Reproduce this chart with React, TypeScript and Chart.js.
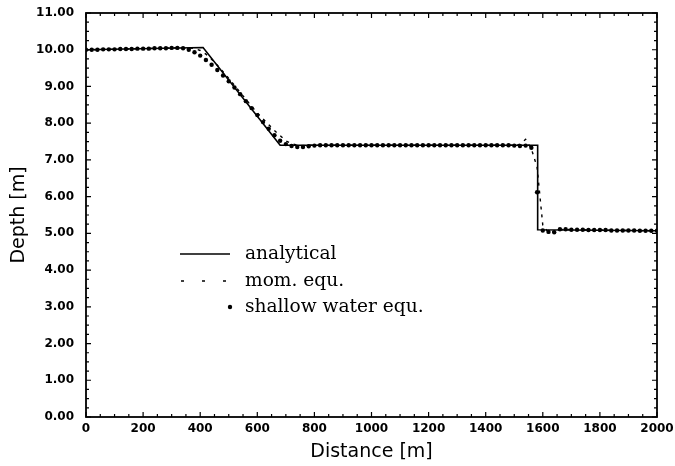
import React, { useEffect, useRef } from "react";
import { Chart, registerables } from "chart.js";

Chart.register(...registerables);

// ---- data ----
const DISTANCE = [
  0, 20, 40, 60, 80, 100, 120, 140, 160, 180,
  200, 220, 240, 260, 280, 300, 320, 340, 360, 380,
  400, 420, 440, 460, 480, 500, 520, 540, 560, 580,
  600, 620, 640, 660, 680, 700, 720, 740, 760, 780,
  800, 820, 840, 860, 880, 900, 920, 940, 960, 980,
  1000, 1020, 1040, 1060, 1080, 1100, 1120, 1140, 1160, 1180,
  1200, 1220, 1240, 1260, 1280, 1300, 1320, 1340, 1360, 1380,
  1400, 1420, 1440, 1460, 1480, 1500, 1520, 1540, 1560, 1580,
  1600, 1620, 1640, 1660, 1680, 1700, 1720, 1740, 1760, 1780,
  1800, 1820, 1840, 1860, 1880, 1900, 1920, 1940, 1960, 1980,
  2000,
];

const SHALLOW = [
  10.00, 10.00, 10.00, 10.01, 10.01, 10.01, 10.02, 10.02, 10.02, 10.03,
  10.03, 10.03, 10.04, 10.04, 10.04, 10.05, 10.05, 10.04,
  10.00, 9.93, 9.84, 9.72, 9.59, 9.45, 9.30, 9.14, 8.97, 8.79,
  8.60, 8.41, 8.22, 8.03, 7.85, 7.67, 7.52, 7.43, 7.38, 7.35,
  7.35, 7.37, 7.39,
  7.40, 7.40, 7.40, 7.40, 7.40,
  7.40, 7.40, 7.40, 7.40, 7.40,
  7.40, 7.40, 7.40, 7.40, 7.40,
  7.40, 7.40, 7.40, 7.40, 7.40,
  7.40, 7.40, 7.40, 7.40, 7.40,
  7.40, 7.40, 7.40, 7.40, 7.40,
  7.40, 7.40, 7.40, 7.40, 7.39,
  7.38, 7.39, 7.33, 6.12, 5.08, 5.04, 5.03, 5.11,
  5.11, 5.10, 5.10, 5.10, 5.09, 5.09, 5.09, 5.09, 5.08, 5.08,
  5.08, 5.08, 5.08, 5.07, 5.07, 5.07, 5.07,
];

const MOM = [
  10.00, 10.00, 10.00, 10.01, 10.01, 10.01, 10.02, 10.02, 10.02, 10.03,
  10.03, 10.03, 10.04, 10.04, 10.04, 10.05, 10.05, 10.05,
  10.05, 10.03, 9.98, 9.88, 9.74, 9.58, 9.40, 9.22, 9.03, 8.84,
  8.65, 8.46, 8.28, 8.12, 7.96, 7.80, 7.66, 7.52, 7.44, 7.40,
  7.39, 7.40, 7.40,
  7.40, 7.40, 7.40, 7.40, 7.40,
  7.40, 7.40, 7.40, 7.40, 7.40,
  7.40, 7.40, 7.40, 7.40, 7.40,
  7.40, 7.40, 7.40, 7.40, 7.40,
  7.40, 7.40, 7.40, 7.40, 7.40,
  7.40, 7.40, 7.40, 7.40, 7.40,
  7.40, 7.40, 7.40, 7.40, 7.40,
  7.42, 7.56, 7.30, 6.80, 5.22, 5.02, 5.06, 5.10,
  5.11, 5.10, 5.10, 5.10, 5.09, 5.09, 5.09, 5.09, 5.08, 5.08,
  5.08, 5.08, 5.08, 5.07, 5.07, 5.07, 5.07,
];

const ANALYTICAL_X = [0, 410, 680, 1582, 1582, 2000];
const ANALYTICAL_Y = [10.0, 10.06, 7.4, 7.4, 5.1, 5.07];

const X_TICKS = [0, 200, 400, 600, 800, 1000, 1200, 1400, 1600, 1800, 2000];
const Y_TICKS = [0, 1, 2, 3, 4, 5, 6, 7, 8, 9, 10, 11];

const LABELS = ["analytical", "mom. equ.", "shallow water equ."];

const frameTicksPlugin = {
  id: "frameTicks",
  afterDatasetsDraw(chart: any) {
    const { ctx, chartArea } = chart;
    const { left, right, top, bottom } = chartArea;
    const xs = chart.scales.x;
    const ys = chart.scales.y;
    ctx.save();
    ctx.strokeStyle = "#000";
    ctx.lineWidth = 1.8;
    ctx.strokeRect(left, top, right - left, bottom - top);
    ctx.lineWidth = 1.2;
    // x ticks
    for (let i = 0; i < X_TICKS.length; i++) {
      const v = X_TICKS[i];
      const px = xs.getPixelForValue(v);
      ctx.beginPath();
      ctx.moveTo(px, bottom);
      ctx.lineTo(px, bottom - 5);
      ctx.moveTo(px, top);
      ctx.lineTo(px, top + 5);
      ctx.stroke();
      if (i < X_TICKS.length - 1) {
        const step = (X_TICKS[i + 1] - v) / 4;
        for (let k = 1; k < 4; k++) {
          const mp = xs.getPixelForValue(v + k * step);
          ctx.beginPath();
          ctx.moveTo(mp, bottom);
          ctx.lineTo(mp, bottom - 3);
          ctx.moveTo(mp, top);
          ctx.lineTo(mp, top + 3);
          ctx.stroke();
        }
      }
    }
    for (let i = 0; i < Y_TICKS.length; i++) {
      const v = Y_TICKS[i];
      const py = ys.getPixelForValue(v);
      ctx.beginPath();
      ctx.moveTo(left, py);
      ctx.lineTo(left + 5, py);
      ctx.moveTo(right, py);
      ctx.lineTo(right - 5, py);
      ctx.stroke();
      if (i < Y_TICKS.length - 1) {
        const step = (Y_TICKS[i + 1] - v) / 4;
        for (let k = 1; k < 4; k++) {
          const mp = ys.getPixelForValue(v + k * step);
          ctx.beginPath();
          ctx.moveTo(left, mp);
          ctx.lineTo(left + 3, mp);
          ctx.moveTo(right, mp);
          ctx.lineTo(right - 3, mp);
          ctx.stroke();
        }
      }
    }

    // legend
    const ds = chart.data.datasets;
    const lx0 = 180;
    const lx1 = 230;
    const tx = 245;
    const rows = [254, 281, 307];
    ctx.font = "18.6px 'DejaVu Serif'";
    ctx.fillStyle = "#000";
    ctx.textBaseline = "middle";
    ctx.textAlign = "left";
    ctx.lineWidth = 1.5;
    ctx.setLineDash([]);
    ctx.beginPath();
    ctx.moveTo(lx0, rows[0]);
    ctx.lineTo(lx1, rows[0]);
    ctx.stroke();
    ctx.fillText(ds[0].label, tx, rows[0]);
    ctx.setLineDash([3, 18]);
    ctx.beginPath();
    ctx.moveTo(lx0 + 1, rows[1]);
    ctx.lineTo(lx1, rows[1]);
    ctx.stroke();
    ctx.setLineDash([]);
    ctx.fillText(ds[1].label, tx, rows[1]);
    ctx.beginPath();
    ctx.arc(lx1, rows[2], 2.2, 0, Math.PI * 2);
    ctx.fill();
    ctx.fillText(ds[2].label, tx, rows[2]);
    ctx.restore();
  },
};

export default function App() {
  const ref = useRef<HTMLCanvasElement | null>(null);
  useEffect(() => {
    if (!ref.current) return;
    const chart = new Chart(ref.current, {
      type: "line",
      data: {
        datasets: [
          {
            label: LABELS[0],
            data: ANALYTICAL_X.map((x, i) => ({ x, y: ANALYTICAL_Y[i] })),
            borderColor: "#000",
            borderWidth: 1.6,
            pointRadius: 0,
            fill: false,
            tension: 0,
          },
          {
            label: LABELS[1],
            data: DISTANCE.map((x, i) => ({ x, y: MOM[i] })),
            borderColor: "#000",
            borderWidth: 1.4,
            borderDash: [3, 5],
            pointRadius: 0,
            fill: false,
            tension: 0,
          },
          {
            label: LABELS[2],
            data: DISTANCE.map((x, i) => ({ x, y: SHALLOW[i] })),
            borderColor: "#000",
            backgroundColor: "#000",
            showLine: false,
            pointRadius: 2.2,
            pointBorderWidth: 0,
            pointBackgroundColor: "#000",
          },
        ],
      },
      options: {
        responsive: false,
        animation: false,
        layout: { padding: { top: 13, right: 18, left: 0, bottom: 0 } },
        plugins: {
          legend: { display: false },
          tooltip: { enabled: false },
        },
        scales: {
          x: {
            type: "linear",
            min: 0,
            max: 2000,
            afterFit: (s: any) => {
              s.height = 49;
              s.paddingLeft = 0;
              s.paddingRight = 0;
            },
            afterBuildTicks: (s: any) => {
              s.ticks = X_TICKS.map((v) => ({ value: v }));
            },
            grid: { display: false, drawTicks: false },
            border: { display: false },
            ticks: {
              color: "#000",
              padding: 5,
              maxRotation: 0,
              autoSkip: false,
              font: { family: "'DejaVu Sans'", size: 12, weight: "bold" },
              callback: (v: any) => String(v),
            },
            title: {
              display: true,
              text: "Distance [m]",
              color: "#000",
              font: { family: "'DejaVu Sans'", size: 19 },
              padding: { top: 0, bottom: 3 },
            },
          },
          y: {
            type: "linear",
            min: 0,
            max: 11,
            afterFit: (s: any) => {
              s.width = 86;
              s.paddingTop = 0;
              s.paddingBottom = 0;
            },
            afterBuildTicks: (s: any) => {
              s.ticks = Y_TICKS.map((v) => ({ value: v }));
            },
            grid: { display: false, drawTicks: false },
            border: { display: false },
            ticks: {
              color: "#000",
              padding: 12,
              autoSkip: false,
              font: { family: "'DejaVu Sans'", size: 12, weight: "bold" },
              callback: (v: any) => Number(v).toFixed(2),
            },
            title: {
              display: true,
              text: "Depth [m]",
              color: "#000",
              font: { family: "'DejaVu Sans'", size: 19 },
              padding: { top: 8, bottom: 0 },
            },
          },
        },
      },
      plugins: [frameTicksPlugin],
    } as any);
    return () => chart.destroy();
  }, []);
  return (
    <canvas
      ref={ref}
      width={675}
      height={466}
      style={{ position: "absolute", left: 0, top: 0, display: "block", background: "#fff" }}
    />
  );
}
